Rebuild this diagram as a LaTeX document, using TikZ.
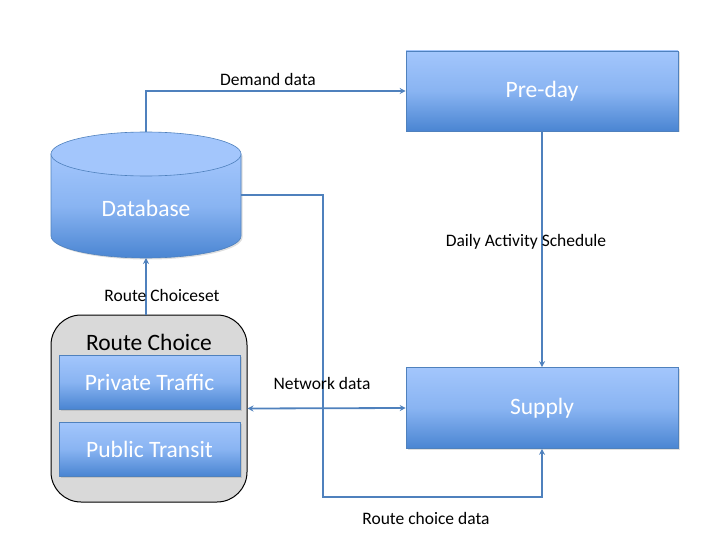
\documentclass[tikz,border=0pt]{standalone}
\usepackage{fontspec}
\setmainfont{Carlito}
\usetikzlibrary{arrows.meta,shadows}
\definecolor{linkblue}{RGB}{79,129,189}
\definecolor{boxtop}{RGB}{163,198,252}
\definecolor{boxmid}{RGB}{137,180,242}
\definecolor{boxbot}{RGB}{74,133,210}
\definecolor{groupgray}{RGB}{217,217,217}
\tikzset{
  boxtext/.style={text=white, font=\fontsize{23.5}{28}\selectfont},
  bluebox/.style={draw=linkblue, line width=0.6pt, top color=boxtop, bottom color=boxbot,
    middle color=boxmid, boxtext,
    drop shadow={opacity=0.25, shadow xshift=1.5pt, shadow yshift=-1.5pt}},
  flow/.style={draw=linkblue, line width=1.8pt, -{Stealth[length=6pt,width=6pt]}},
  flowlabel/.style={font=\fontsize{17.5}{20}\selectfont},
}
\begin{document}
\begin{tikzpicture}[x=1pt, y=-1pt]
  \useasboundingbox (0,0) rectangle (720,540);
  \node[bluebox, minimum width=272pt, minimum height=80pt] (preday) at (542,91) {Pre-day};
  \node[bluebox, minimum width=272pt, minimum height=81pt] (supply) at (542,408) {Supply};
  % database cylinder
  \shade[draw=linkblue, line width=0.6pt, top color=boxtop, bottom color=boxbot, middle color=boxmid,
    drop shadow={opacity=0.25, shadow xshift=1.5pt, shadow yshift=-1.5pt}]
    (51,154) -- (51,236) arc[start angle=180, end angle=360, x radius=95pt, y radius=22pt]
    -- (241,154) -- cycle;
  \filldraw[draw=linkblue, line width=0.6pt, fill=boxtop] (146,154) ellipse [x radius=95pt, y radius=22pt];
  \node[minimum width=190pt, minimum height=126pt, inner sep=0pt, outer sep=0pt] (db) at (146,195) {};
  \node[boxtext] (dblbl) at (146,208) {Database};
  % route choice group
  \node[draw=black, line width=1pt, fill=groupgray, rounded corners=30pt,
    minimum width=196pt, minimum height=187pt] (rc) at (149,408.5) {};
  \node[font=\fontsize{23.5}{28}\selectfont] (rctitle) at (149,342) {Route Choice};
  \node[bluebox, minimum width=181pt, minimum height=54pt] (private) at (149.5,382) {Private Traffic};
  \node[bluebox, minimum width=181pt, minimum height=54pt] (public) at (149.5,449) {Public Transit};
  % connectors
  \coordinate (turn) at (323,497);
  \draw[flow] (db.north) |- (preday.west);
  \draw[flow] (preday.south) -- (supply.north);
  \draw[flow] (db.east) -| (turn) -| (supply.south);
  \draw[flow, {Stealth[length=6pt,width=6pt]}-{Stealth[length=6pt,width=6pt]}] (supply.west) -- (rc.east);
  \draw[flow] (db.south |- rc.north) -- (db.south);
  \node[flowlabel] (demandlbl) at (268,79) {Demand data};
  \node[flowlabel] (dailylbl) at (526,242) {Daily Activity Schedule};
  \node[flowlabel] (networklbl) at (322,383) {Network data};
  \node[flowlabel] (routelbl) at (426,518) {Route choice data};
  \node[flowlabel] (choicesetlbl) at (162,295) {Route Choiceset};
\end{tikzpicture}
\end{document}
